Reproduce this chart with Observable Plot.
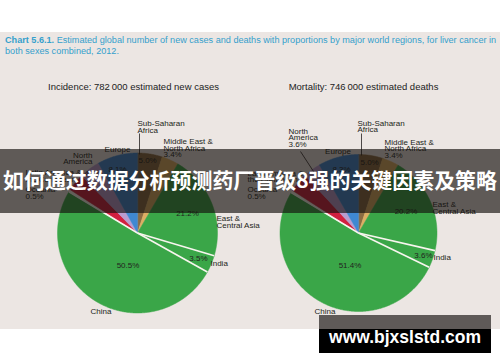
<!DOCTYPE html>
<html><head><meta charset="utf-8">
<script src="https://cdn.jsdelivr.net/npm/d3@7"></script>
<script src="https://cdn.jsdelivr.net/npm/@observablehq/plot@0.6"></script>
<style>
body{margin:0;width:500px;height:362px;position:relative;overflow:hidden;background:#fff;font-family:"Liberation Sans",Arial,sans-serif}
.abs{position:absolute}
.tl{position:absolute;left:5px;white-space:nowrap;color:#35a0cc;font-size:9px;line-height:11px}
</style></head>
<body>
<div class="abs" style="left:0;top:32px;width:500px;height:297px;background:#ece6e3"></div>
<div id="t1" class="tl" style="top:35px"></div>
<div id="t2" class="tl" style="top:46px"></div>
<div id="chart" class="abs" style="left:0;top:0"></div>
<div id="banner" class="abs" style="left:0;top:149px;width:500px;height:64px;background:rgba(20,15,12,0.65);text-align:center">
  <span id="bt" style="display:inline-block;white-space:nowrap;color:#fff;font-weight:bold;font-family:'Noto Sans CJK SC',sans-serif;font-size:21px;line-height:60px"></span>
</div>
<div class="abs" style="left:319px;top:315px;width:172px;height:14px;background:#5f5a58"></div>
<div class="abs" style="left:319px;top:329px;width:172px;height:24px;background:#000"></div>
<div class="abs" style="left:319px;top:315px;width:172px;height:44px;text-align:center">
  <span id="wm" style="display:inline-block;white-space:nowrap;color:#fff;font-weight:bold;font-family:'Liberation Sans',Arial,sans-serif;font-size:17px;line-height:44px"></span>
</div>
<script>
// ---- data ----
const titleBold = "Chart 5.6.1.";
const titleLine1 = " Estimated global number of new cases and deaths with proportions by major world regions, for liver cancer in";
const titleLine2 = "both sexes combined, 2012.";
const pieNames = ["Incidence", "Mortality"];
const pieTotals = [782000, 746000];
const pieUnits = ["estimated new cases", "estimated deaths"];
const regions = ["Sub-Saharan Africa","Middle East & North Africa","East & Central Asia","India","China","Oceania","Latin America & the Caribbean","North America","Europe"];
const regionLines = [["Sub-Saharan","Africa"],["Middle East &","North Africa"],["East &","Central Asia"],["India"],["China"],["Oceania"],["Latin America &","the Caribbean"],["North","America"],["Europe"]];
const incidence = [5.0, 3.4, 21.2, 3.5, 50.5, 0.5, 3.6, 4.2, 8.1];
const mortality = [5.0, 3.4, 20.2, 3.6, 51.4, 0.5, 4.0, 3.6, 8.3];
const showPct = [true, true, true, true, true, true, false, true, true];
const bannerText = "如何通过数据分析预测药厂晋级8强的关键因素及策略";
const watermarkText = "www.bjxslstd.com";

// ---- styles / layout ----
const palette = ["#8b6c42","#dcae63","#3aa648","#3aa648","#3aa648","#f4f0e6","#d1203f","#b99ccf","#3f88d2"];
const pies = [{cx:137, cy:232.5, r:80}, {cx:358, cy:232.5, r:78.5}];
const subtitlePos = [{x:133, y:86.7}, {x:363, y:86.7}];
const lineStep = 6.7;
const labelPos = [
 [
  {nx:137, ny:123, na:"start", px:138, py:160, pa:"start"},
  {nx:163, ny:141, na:"start", px:163, py:154.4, pa:"start"},
  {nx:216, ny:218.3, na:"start", px:187, py:212.7, pa:"middle"},
  {nx:210, ny:263.3, na:"start", px:207, py:257.7, pa:"end"},
  {nx:100.5, ny:310.7, na:"middle", px:127.5, py:265, pa:"middle"},
  {nx:25, ny:188.5, na:"start", px:25, py:195.5, pa:"start"},
  {nx:25, ny:172, na:"start"},
  {nx:92, ny:154.5, na:"end", px:93, py:172.7, pa:"middle"},
  {nx:117, ny:148.5, na:"middle", px:117, py:169, pa:"middle"}
 ],
 [
  {nx:357, ny:122.7, na:"start", px:360, py:162, pa:"start"},
  {nx:384, ny:141.7, na:"start", px:384, py:155.1, pa:"start"},
  {nx:432, ny:204, na:"start", px:405.5, py:211, pa:"middle"},
  {nx:433, ny:257, na:"start", px:432, py:255, pa:"end"},
  {nx:324.5, ny:310.7, na:"middle", px:349.5, py:265, pa:"middle"},
  {nx:247, ny:188.5, na:"start", px:247, py:195.5, pa:"start"},
  {nx:247, ny:172.5, na:"start"},
  {nx:288, ny:130.7, na:"start", px:288, py:144.1, pa:"start"},
  {nx:337.5, ny:150.7, na:"middle", px:341, py:168.7, pa:"middle"}
 ]
];
const leaders = [
  {x1:139, y1:133, x2:139, y2:154},
  {x1:361, y1:133, x2:361, y2:155},
  {x1:300, y1:151, x2:315, y2:174}
];

// ---- build ----
const series = [incidence, mortality];
const slicePts = [];
const separators = [];
series.forEach((vals, p) => {
  const {cx, cy, r} = pies[p];
  const arcs = d3.pie().sort(null).value(d => d)(vals);
  arcs.forEach((a, i) => {
    const key = p + "-" + i;
    slicePts.push({key, color: palette[i], x: cx, y: cy});
    const n = Math.max(2, Math.ceil((a.endAngle - a.startAngle) / (Math.PI / 360)));
    for (let k = 0; k <= n; k++) {
      const t = a.startAngle + (a.endAngle - a.startAngle) * k / n;
      slicePts.push({key, color: palette[i], x: cx + r * Math.sin(t), y: cy - r * Math.cos(t)});
    }
  });
  const iIndia = regions.indexOf("India"), iChina = regions.indexOf("China");
  [arcs[iIndia].startAngle, arcs[iIndia].endAngle, arcs[iChina].endAngle].forEach(t => {
    separators.push({x1: cx, y1: cy, x2: cx + r * Math.sin(t), y2: cy - r * Math.cos(t)});
  });
});

const fmtTotal = n => d3.format(",")(n).replace(/,/g, "\u2009");
const subtitles = pieNames.map((nm, p) => ({...subtitlePos[p], text: `${nm}: ${fmtTotal(pieTotals[p])} ${pieUnits[p]}`}));

const labels = [];
series.forEach((vals, p) => {
  vals.forEach((v, i) => {
    const L = labelPos[p][i];
    regionLines[i].forEach((ln, k) => labels.push({x: L.nx, y: L.ny + k * lineStep, text: ln, anchor: L.na}));
    if (showPct[i]) labels.push({x: L.px, y: L.py, text: v.toFixed(1) + "%", anchor: L.pa});
  });
});

const textColor = "#231f20";
const chart = Plot.plot({
  width: 500, height: 362, margin: 0,
  x: {domain: [0, 500], axis: null},
  y: {domain: [362, 0], axis: null},
  color: {type: "identity"},
  style: {background: "transparent", fontFamily: "'Liberation Sans', Arial, sans-serif", color: textColor},
  marks: [
    Plot.line(slicePts, {x: "x", y: "y", z: "key", fill: "color", stroke: "color", strokeWidth: 0.5, curve: "linear-closed"}),
    Plot.link(separators, {x1: "x1", y1: "y1", x2: "x2", y2: "y2", stroke: "#f7f5ee", strokeWidth: 1.6}),
    Plot.link(leaders, {x1: "x1", y1: "y1", x2: "x2", y2: "y2", stroke: textColor, strokeWidth: 0.8}),
    Plot.text(subtitles, {x: "x", y: "y", text: "text", fontSize: 9.5, fill: "#222"}),
    ...["start", "middle", "end"].map(a => Plot.text(labels.filter(d => d.anchor === a), {x: "x", y: "y", text: "text", textAnchor: a, fontSize: 8, fill: textColor}))
  ]
});
document.getElementById("chart").appendChild(chart);

// ---- text blocks ----
const t1 = document.getElementById("t1");
t1.innerHTML = "";
const b = document.createElement("b"); b.textContent = titleBold; t1.appendChild(b);
t1.appendChild(document.createTextNode(titleLine1));
const t2 = document.getElementById("t2"); t2.textContent = titleLine2;
function fit(el, target) {
  const w = el.getBoundingClientRect().width;
  const fs = parseFloat(getComputedStyle(el).fontSize);
  const nfs = fs * target / w;
  el.style.fontSize = nfs + "px";
  return nfs;
}
const tfs = fit(t1, 492);
t2.style.fontSize = tfs + "px";
const bt = document.getElementById("bt"); bt.textContent = bannerText; fit(bt, 494);
const wm = document.getElementById("wm"); wm.textContent = watermarkText; fit(wm, 152);
</script>
</body></html>
